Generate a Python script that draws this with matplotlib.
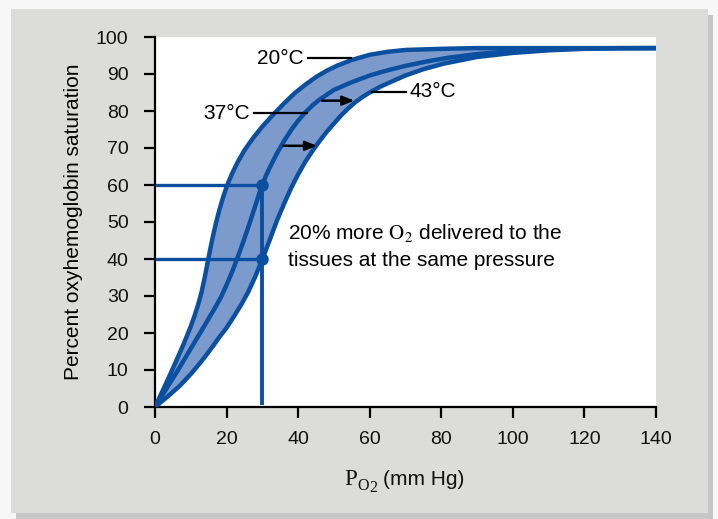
import matplotlib
matplotlib.use("Agg")
import matplotlib.pyplot as plt
from matplotlib.patches import Rectangle

plt.rcParams['font.family'] = ['Liberation Sans', 'DejaVu Sans']
plt.rcParams['mathtext.fontset'] = 'stix'

# Oxyhemoglobin dissociation curves (P_O2 in mm Hg, saturation in %)
p_20 = [0, 2, 4, 6, 8, 10, 11, 12, 13, 14, 15, 16, 17, 18, 19, 20.2, 21.5, 23,
        25, 27.5, 30, 33, 36, 39, 42, 45, 48, 51, 55, 60, 65, 70, 80, 90, 140]
s_20 = [0, 4.1, 8.3, 12.6, 17, 21.8, 24.5, 27.5, 31, 35.5, 40.5, 45.3, 49.6,
        53.3, 56.6, 60, 63, 66, 69.4, 72.8, 75.8, 79, 82, 84.8, 87.1, 89.2,
        90.9, 92.3, 93.8, 95.2, 96, 96.5, 96.8, 97, 97]

p_37 = [0, 3.5, 7, 10, 12.6, 15, 17, 18.5, 20, 21.5, 23, 24.5, 26, 27.5, 29,
        30, 31, 32, 34, 36, 38, 40, 42, 44, 46, 50, 55, 60, 65, 70, 76, 82,
        90, 100, 110, 120, 140]
s_37 = [0, 5.4, 10.9, 15.8, 20, 23.9, 27.2, 29.8, 33, 36.4, 40.2, 44.2, 48.4,
        52.8, 57.3, 60.1, 62.5, 64.6, 68.4, 71.8, 74.8, 77.4, 79.6, 81.5, 83.1,
        85.7, 87.8, 89.6, 91, 92.2, 93.4, 94.4, 95.4, 96.2, 96.7, 96.9, 97]

p_43 = [0, 3.5, 7, 10, 12, 14, 16, 18, 20, 22, 24, 26, 28, 30, 32, 34, 36, 38,
        40, 42, 44, 46, 48, 50, 52, 54, 56, 58, 60, 63, 66.7, 70, 75, 80.7, 90,
        100, 110, 120, 130, 140]
s_43 = [0, 2.8, 5.8, 8.9, 11.2, 13.6, 16.2, 18.9, 21.4, 24.4, 27.5, 31, 35.2,
        40, 45, 50.2, 54.8, 59.1, 62.9, 66.3, 69.2, 71.9, 74.4, 76.6, 78.8,
        80.7, 82.4, 83.8, 85, 86.6, 88.2, 89.6, 91.3, 92.8, 94.6, 95.7, 96.4,
        96.8, 97, 97]

# Comparison at the same tissue pressure
p_tissue = 30
sat_levels = [60, 40]

x_ticks = [0, 20, 40, 60, 80, 100, 120, 140]
y_ticks = [0, 10, 20, 30, 40, 50, 60, 70, 80, 90, 100]

LINE = '#0b4fa0'
FILL = '#7c9bcc'
FS = 15

W, H = 718, 519
fig = plt.figure(figsize=(W / 100, H / 100), dpi=100)
fig.patch.set_facecolor('#f7f7f7')

# grey panel with a soft drop shadow
fig.patches.append(Rectangle((16 / W, 1 - 519 / H), 697 / W, 504 / H,
                             transform=fig.transFigure, facecolor='#c6c6c6',
                             edgecolor='none', zorder=-2))
fig.patches.append(Rectangle((11 / W, 1 - 513 / H), 697 / W, 504 / H,
                             transform=fig.transFigure, facecolor='#dcdddb',
                             edgecolor='none', zorder=-1))

ax = fig.add_axes([155 / W, 1 - 407 / H, 501 / W, 370 / H])
ax.set_facecolor('white')
ax.set_xlim(0, 140)
ax.set_ylim(0, 100)

# shaded band between 20 °C and 43 °C curves
ax.fill(p_20 + p_43[::-1], s_20 + s_43[::-1], color=FILL, lw=0, zorder=1)
for p, s in ((p_20, s_20), (p_37, s_37), (p_43, s_43)):
    ax.plot(p, s, color=LINE, lw=3.2, solid_capstyle='round',
            solid_joinstyle='round', zorder=3)

# guide lines at the tissue pressure
for lvl in sat_levels:
    ax.plot([0, p_tissue], [lvl, lvl], color=LINE, lw=2.4, zorder=4,
            solid_capstyle='butt', clip_on=False)
ax.plot([p_tissue, p_tissue], [0.6, max(sat_levels)], color=LINE, lw=2.8,
        zorder=4, solid_capstyle='butt')
ax.plot([p_tissue] * len(sat_levels), sat_levels, 'o', color=LINE, ms=8,
        zorder=5)

# temperature labels with leader lines
ax.text(41.5, 94.2, '20°C', ha='right', va='center', fontsize=FS)
ax.plot([42.8, 54.9], [94.2, 94.2], color='black', lw=1.6, zorder=6)
ax.text(26.6, 79.4, '37°C', ha='right', va='center', fontsize=FS)
ax.plot([27.8, 42.5], [79.4, 79.4], color='black', lw=1.6, zorder=6)
ax.text(71.2, 85.2, '43°C', ha='left', va='center', fontsize=FS)
ax.plot([60.7, 70.0], [85.2, 85.2], color='black', lw=1.6, zorder=6)

# rightward shift arrows
for (x0, x1, y) in ((46.7, 55.7, 82.8), (35.9, 45.3, 70.6)):
    ax.annotate('', xy=(x1, y), xytext=(x0, y),
                arrowprops=dict(arrowstyle='-|>,head_length=0.7,head_width=0.28',
                                color='black', lw=1.8, shrinkA=0, shrinkB=0),
                zorder=6)

ax.text(37.3, 47.1, r'20% more $\mathrm{O_2}$ delivered to the',
        ha='left', va='center', fontsize=FS)
ax.text(37.3, 39.7, 'tissues at the same pressure',
        ha='left', va='center', fontsize=FS)

for side in ('top', 'right'):
    ax.spines[side].set_visible(False)
for side in ('left', 'bottom'):
    ax.spines[side].set_linewidth(1.6)
    ax.spines[side].set_color('black')

ax.set_xticks(x_ticks)
ax.set_yticks(y_ticks)
ax.tick_params(direction='out', length=8, width=1.6, labelsize=14,
               color='black', labelcolor='#111111')
ax.tick_params(axis='x', pad=9)
ax.tick_params(axis='y', pad=11)

ax.set_ylabel('Percent oxyhemoglobin saturation', fontsize=FS, va='center')
ax.yaxis.set_label_coords((74 - 155) / 501, 0.5)


# x-axis title: serif P with O2 subscript, then the unit
def fig_text(px, py, s, **kw):
    fig.text(px / W, 1 - py / H, s, ha='left', va='baseline', **kw)


fig_text(344, 485, 'P', family='Liberation Serif', fontsize=16.5, color='#111111')
fig_text(357.5, 489.5, 'O', family='Liberation Serif', fontsize=11.5, color='#111111')
fig_text(369.5, 492, '2', family='Liberation Serif', fontsize=11.5, color='#111111')
fig_text(383, 485, '(mm Hg)', fontsize=FS, color='#111111')

fig.savefig('out.png', dpi=100, facecolor=fig.get_facecolor())
